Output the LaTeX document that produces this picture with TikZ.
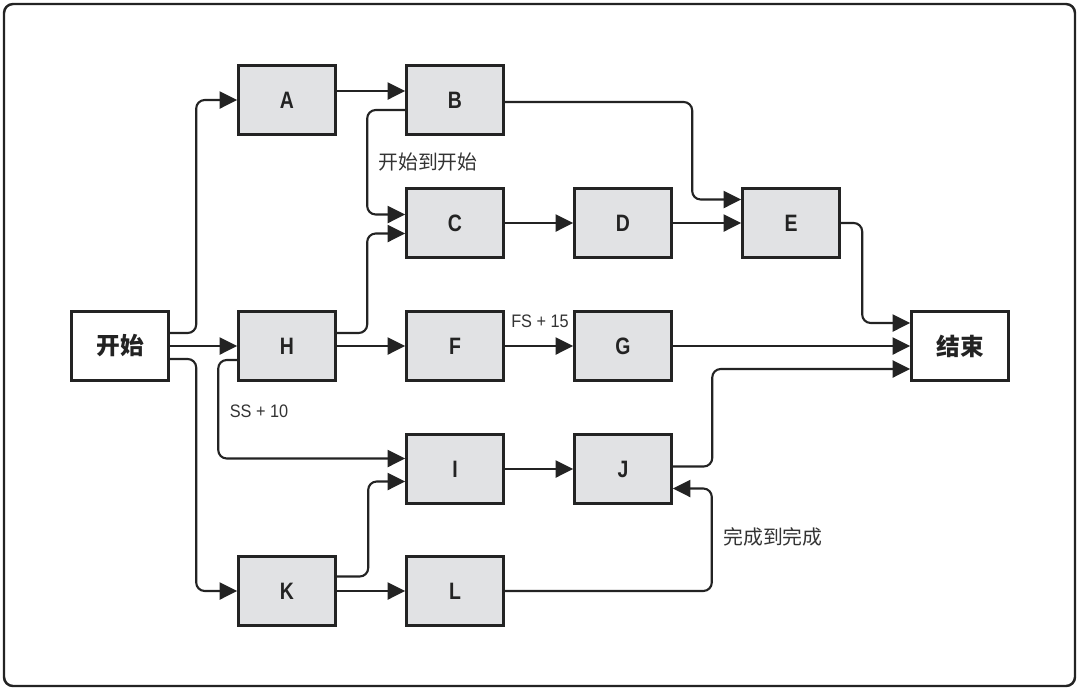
\documentclass[tikz,border=0pt]{standalone}
\usepackage{fontspec}
\setmainfont{Liberation Sans}
\newfontfamily\nodefont[FakeStretch=0.82]{Liberation Sans}
\newfontfamily\labfont[FakeStretch=0.9]{Liberation Sans}
\newfontfamily\cjk{Noto Sans CJK SC}
\usetikzlibrary{arrows.meta,calc}
\definecolor{boxfill}{HTML}{E1E2E4}
\definecolor{ink}{HTML}{232323}
\definecolor{labink}{HTML}{333333}
\tikzset{
  task/.style={draw=ink, fill=boxfill, line width=1.5pt, minimum width=1.94cm, minimum height=1.37cm, inner sep=0pt, font=\nodefont\bfseries\fontsize{13.5}{15}\selectfont, text=ink},
  term/.style={task, fill=white, font=\cjk\bfseries\fontsize{13.5}{16}\selectfont},
  conn/.style={draw=ink, line width=1.2pt, rounded corners=0.17cm, -{Triangle[length=0.35cm,width=0.34cm]}},
  lab/.style={font=\labfont\fontsize{10.3}{12}\selectfont, text=labink, inner sep=0pt},
  clab/.style={font=\cjk\fontsize{11.3}{13}\selectfont, text=labink, inner sep=0pt}
}
\begin{document}
\begin{tikzpicture}[x=0.02cm,y=-0.02cm]
\useasboundingbox (0,0) rectangle (1080,691);
\draw[ink, line width=1.4pt, rounded corners=0.18cm] (4,4) rectangle (1075,686);
\node[term] (s) at (120,346) {开始};
\node[task] (A) at (287,100) {A};
\node[task] (B) at (455,100) {B};
\node[task] (C) at (455,223) {C};
\node[task] (D) at (623,223) {D};
\node[task] (E) at (791,223) {E};
\node[task] (H) at (287,346) {H};
\node[task] (F) at (455,346) {F};
\node[task] (G) at (623,346) {G};
\node[term] (e) at (960,346) {结束};
\node[task] (I) at (455,469) {I};
\node[task] (J) at (623,469) {J};
\node[task] (K) at (287,591) {K};
\node[task] (L) at (455,591) {L};
% connectors
\draw[conn] ([yshift=0.26cm]s.east) -| ([xshift=-0.82cm]A.west) -- (A.west);
\draw[conn] (s.east) -- (H.west);
\draw[conn] ([yshift=-0.26cm]s.east) -| ([xshift=-0.82cm]K.west) -- (K.west);
\draw[conn] ([yshift=0.18cm]A.east) -- ([yshift=0.18cm]B.west);
\draw[conn] ([yshift=-0.2cm]B.west) -| ([xshift=-0.76cm,yshift=0.17cm]C.west) -- ([yshift=0.17cm]C.west);
\draw[conn] ([yshift=0.26cm]H.east) -| ([xshift=-0.76cm,yshift=-0.21cm]C.west) -- ([yshift=-0.21cm]C.west);
\draw[conn] ([yshift=-0.04cm]B.east) -| ([xshift=-0.98cm,yshift=0.47cm]E.west) -- ([yshift=0.47cm]E.west);
\draw[conn] (C.east) -- (D.west);
\draw[conn] (D.east) -- (E.west);
\draw[conn] (E.east) -| ([xshift=-0.96cm,yshift=0.46cm]e.west) -- ([yshift=0.46cm]e.west);
\draw[conn] (H.east) -- (F.west);
\draw[conn] (F.east) -- (G.west);
\draw[conn] (G.east) -- (e.west);
\draw[conn] ([yshift=0.05cm]J.east) -| ([xshift=-3.96cm,yshift=-0.46cm]e.west) -- ([yshift=-0.46cm]e.west);
\draw[conn] ([yshift=-0.28cm]H.west) -| ([xshift=-3.74cm,yshift=0.21cm]I.west) -- ([yshift=0.21cm]I.west);
\draw[conn] ([yshift=0.29cm]K.east) -| ([xshift=-0.74cm,yshift=-0.25cm]I.west) -- ([yshift=-0.25cm]I.west);
\draw[conn] (I.east) -- (J.west);
\draw[conn] (K.east) -- (L.west);
\draw[conn] (L.east) -| ([xshift=0.78cm,yshift=-0.39cm]J.east) -- ([yshift=-0.39cm]J.east);
% labels
\node[clab] (l1) at (428,162) {开始到开始};
\node[lab] (l2) at (259,411) {SS + 10};
\node[lab] (l3) at (540,321) {FS + 15};
\node[clab] (l4) at (773,537) {完成到完成};
\end{tikzpicture}
\end{document}
